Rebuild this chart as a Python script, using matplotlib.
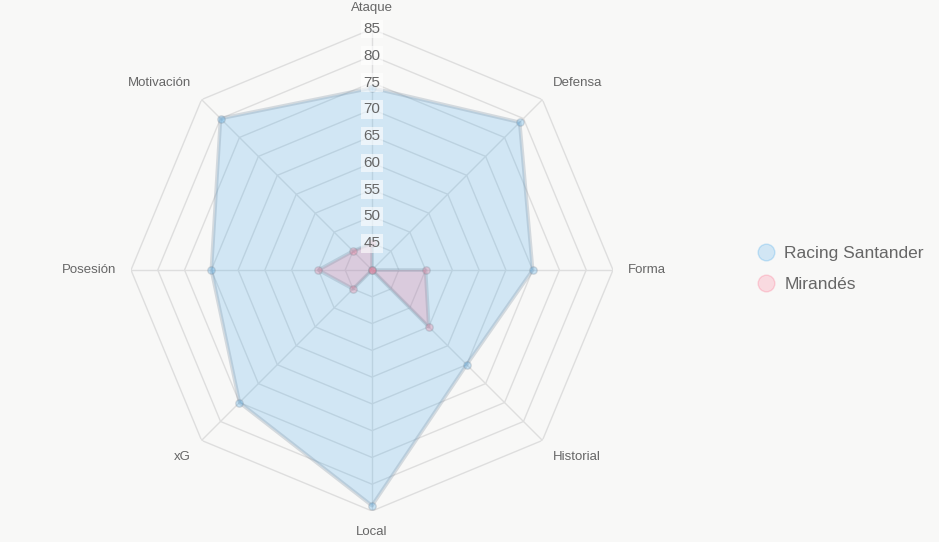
import numpy as np
import matplotlib
matplotlib.use("Agg")
import matplotlib.pyplot as plt
from matplotlib.lines import Line2D

plt.rcParams["font.family"] = ["Liberation Sans", "DejaVu Sans"]

categories = ["Ataque", "Defensa", "Forma", "Historial", "Local", "xG", "Posesión", "Motivación"]
racing = [74, 79, 70, 65, 84, 75, 70, 80]
mirandes = [45, 40, 50, 55, 40, 45, 50, 45]
series_names = ["Racing Santander", "Mirandés"]
r_ticks = [45, 50, 55, 60, 65, 70, 75, 80, 85]
r_min, r_max = 40, 85

W, H = 939, 542
bg = "#f8f8f7"
fig = plt.figure(figsize=(W / 100, H / 100), dpi=100, facecolor=bg)
cx, cy, R = 372, 270, 241
ax = fig.add_axes([(cx - R) / W, (H - cy - R) / H, 2 * R / W, 2 * R / H], projection="polar")
ax.set_facecolor("none")
ax.set_theta_offset(np.pi / 2)
ax.set_theta_direction(-1)
ax.set_ylim(r_min, r_max)
ax.grid(False)
ax.spines["polar"].set_visible(False)
ax.set_xticks([])
ax.set_yticks([])

n = len(categories)
theta = np.arange(n) * 2 * np.pi / n
theta_c = np.append(theta, theta[0])

grid_col = "#dedede"
for r in r_ticks:
    ax.plot(theta_c, [r] * (n + 1), color=grid_col, lw=1.0, zorder=1)
for t in theta:
    ax.plot([t, t], [r_min, r_max], color=grid_col, lw=1.0, zorder=1)

colors = [(54 / 255, 162 / 255, 235 / 255), (255 / 255, 99 / 255, 132 / 255)]
for vals, col in zip([racing, mirandes], colors):
    v = np.append(vals, vals[0])
    ax.fill(theta_c, v, color=col, alpha=0.2, lw=0, zorder=2)
    ax.plot(theta_c, v, color=(0.5, 0.58, 0.65), alpha=0.3, lw=2.6, zorder=3,
            solid_joinstyle="round")
    ax.scatter(theta, vals, s=28, color=(*col, 0.25), edgecolors=(0.5, 0.55, 0.6, 0.3),
               linewidths=1, zorder=4, clip_on=False)

# radial tick labels
for r in r_ticks:
    ax.text(0, r, str(r), ha="center", va="center", fontsize=11, color="#666666",
            zorder=6, bbox=dict(boxstyle="square,pad=0.15", fc=(1, 1, 1, 0.6), ec="none"))

# point labels
lab_r = r_min + 256 / R * (r_max - r_min)
aligns = [("center", "bottom"), ("left", "bottom"), ("left", "center"), ("left", "top"),
          ("center", "top"), ("right", "top"), ("right", "center"), ("right", "bottom")]
for t, lab, (ha, va) in zip(theta, categories, aligns):
    ax.text(t, lab_r, lab, ha=ha, va=va, fontsize=9.5, color="#666666", clip_on=False)

handles = [Line2D([], [], marker="o", ls="none", markersize=12,
                  markerfacecolor=(*c, 0.2), markeredgecolor=(*c, 0.25), markeredgewidth=1)
           for c in colors]
fig.legend(handles, series_names, loc="center left", bbox_to_anchor=(740 / W, 1 - 269 / H),
           frameon=False, fontsize=12.5, labelcolor="#666666", handletextpad=0.45,
           labelspacing=0.95, handlelength=1.2)

fig.savefig("out.png", dpi=100, facecolor=bg)
